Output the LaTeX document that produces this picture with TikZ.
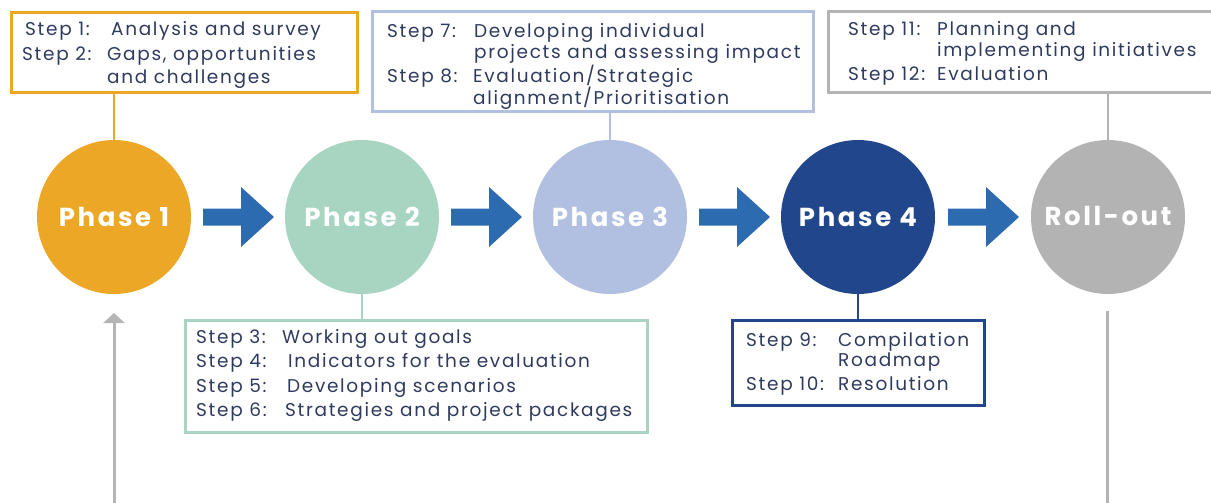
\documentclass[tikz,border=0pt]{standalone}
\usepackage{fontspec}
\setmainfont{Poppins}
\usetikzlibrary{calc,arrows.meta}

\definecolor{phaseA}{HTML}{EDA727}
\definecolor{phaseB}{HTML}{A8D5C2}
\definecolor{phaseC}{HTML}{B1BFE0}
\definecolor{phaseD}{HTML}{21468B}
\definecolor{phaseE}{HTML}{B3B3B3}
\definecolor{flowblue}{HTML}{2C6BB0}
\definecolor{stepink}{HTML}{2F3B5E}
\definecolor{loopgrey}{HTML}{B5B5B5}

\tikzset{
  phase/.style={circle, minimum size=154pt, inner sep=0pt, text=white,
    font=\fontsize{26}{28}\selectfont\bfseries\addfontfeatures{LetterSpace=10}},
  stepbox/.style={draw, line width=2.5pt, inner sep=0pt, fill=none},
  steptext/.style={anchor=base west, inner sep=0pt, text=stepink,
    font=\fontsize{18.5}{20}\selectfont\addfontfeatures{LetterSpace=9}},
  tie/.style={line width=2.5pt},
  loop/.style={line width=3pt, draw=loopgrey},
}
\newcommand\steplabel[2]{\makebox[#1pt][l]{#2}}

\begin{document}
\begin{tikzpicture}[x=1pt,y=-1pt]
  \useasboundingbox (0,0) rectangle (1211,503);

  % phases
  \node[phase, fill=phaseA] (p1) at (114,217) {Phase 1};
  \node[phase, fill=phaseB] (p2) at (362,217) {Phase 2};
  \node[phase, fill=phaseC] (p3) at (610,217) {Phase 3};
  \node[phase, fill=phaseD] (p4) at (858,217) {Phase 4};
  \node[phase, fill=phaseE] (p5) at (1108,217) {\raisebox{2pt}{Roll-out}};

  % block arrows between phases
  \foreach \a/\b in {p1/p2,p2/p3,p3/p4,p4/p5}{
    \fill[flowblue] ($(\a)!0.5!(\b)$) ++(-35,-8.5) -- ++(38,0) -- ++(0,-21.5)
      -- ++(33,30) -- ++(-33,30) -- ++(0,-21.5) -- ++(-38,0) -- cycle;
  }

  % step boxes
  \node[stepbox, draw=phaseA, minimum width=346pt, minimum height=80pt] (b1) at (184.5,52.5) {};
  \node[stepbox, draw=phaseB, minimum width=462pt, minimum height=112pt] (b2) at (416.5,376.5) {};
  \node[stepbox, draw=phaseC, minimum width=441pt, minimum height=100pt] (b3) at (593,61.5) {};
  \node[stepbox, draw=phaseD, line width=3pt, minimum width=252pt, minimum height=85pt] (b4) at (858.5,363) {};
  \node[stepbox, draw=phaseE, minimum width=391pt, minimum height=81pt] (b5) at (1024,52) {};

  % ties from phases to their boxes
  \draw[tie, draw=phaseA] (p1.north) -- (p1.north |- b1.south);
  \draw[tie, draw=phaseB] (p2.south) -- (p2.south |- b2.north);
  \draw[tie, draw=phaseC] (p3.north) -- (p3.north |- b3.south);
  \draw[tie, draw=phaseD] (p4.south) -- (p4.south |- b4.north);
  \draw[tie, draw=phaseE] (p5.north) -- (p5.north |- b5.south);

  % phase 1 steps
  \node[steptext] (t1) at (25,36) {\steplabel{86}{Step 1:}Analysis and survey};
  \node[steptext] (t2) at (22,61) {\steplabel{85}{Step 2:}Gaps, opportunities};
  \node[steptext] (t2b) at (107,84) {and challenges};

  % phase 2 steps
  \node[steptext] (t3) at (196,343) {\steplabel{86}{Step 3:}Working out goals};
  \node[steptext] (t4) at (196,367) {\steplabel{92}{Step 4:}Indicators for the evaluation};
  \node[steptext] (t5) at (196,392) {\steplabel{91}{Step 5:}Developing scenarios};
  \node[steptext] (t6) at (196,416) {\steplabel{89}{Step 6:}Strategies and project packages};

  % phase 3 steps
  \node[steptext] (t7) at (387,38) {\steplabel{87}{Step 7:}Developing individual};
  \node[steptext] (t7b) at (474,59) {projects and assessing impact};
  \node[steptext] (t8) at (387,82) {\steplabel{86}{Step 8:}Evaluation/Strategic};
  \node[steptext] (t8b) at (473,104) {alignment/Prioritisation};

  % phase 4 steps
  \node[steptext] (t9) at (746,346) {\steplabel{92}{Step 9:}Compilation};
  \node[steptext] (t9b) at (838,366) {Roadmap};
  \node[steptext] (t10) at (746,390) {\steplabel{92}{Step 10:}Resolution};

  % roll-out steps
  \node[steptext] (t11) at (848,36) {\steplabel{89}{Step 11:}Planning and};
  \node[steptext] (t11b) at (937,57) {implementing initiatives};
  \node[steptext] (t12) at (848,81) {\steplabel{89}{Step 12:}Evaluation};

  % feedback loop ends
  \coordinate (loopinA) at (114,504);
  \coordinate (loopinB) at (114,313);
  \coordinate (loopoutA) at (1107,311);
  \coordinate (loopoutB) at (1107,504);
  \draw[loop, -{Triangle[width=21pt,length=10pt]}] (loopinA) -- (loopinB);
  \draw[loop] (loopoutA) -- (loopoutB);
\end{tikzpicture}
\end{document}
